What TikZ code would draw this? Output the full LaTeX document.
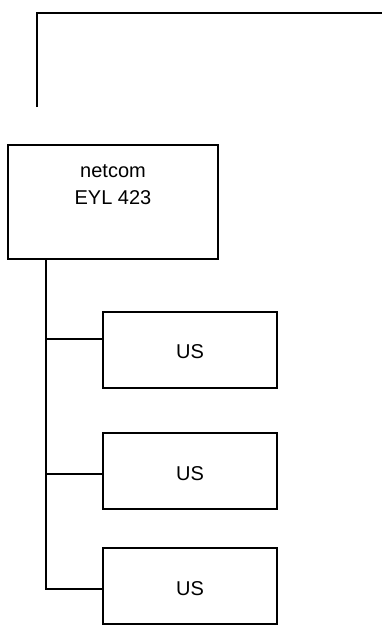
\documentclass[tikz,border=0pt]{standalone}
\usepackage{fontspec}
\setmainfont{Liberation Sans}
\begin{document}
\begin{tikzpicture}[x=1pt,y=1pt,
  line/.style={line width=1.7pt, line cap=butt},
  box/.style={draw, line width=1.7pt, rectangle, inner sep=0pt, outer sep=0pt},
  lbl/.style={font=\fontsize{20}{26.7}\selectfont, align=center, inner sep=0pt}]
\useasboundingbox (0,0) rectangle (382,-626);
% top connector
\coordinate (t1) at (37,-107);
\coordinate (t2) at (37,-13);
\coordinate (t3) at (383,-13);
\draw[line] (t1) -- (t2) -- (t3);
% main box
\node[box, minimum width=210, minimum height=114] (main) at (113,-202) {};
\node[lbl, anchor=base] (mainlbl) at (113,-204) {netcom\\EYL 423};
% US boxes
\node[box, minimum width=174, minimum height=76] (us1) at (190,-350) {};
\node[lbl] (us1l) at (190,-352) {US};
\node[box, minimum width=174, minimum height=76] (us2) at (190,-471) {};
\node[lbl] (us2l) at (190,-474) {US};
\node[box, minimum width=174, minimum height=76] (us3) at (190,-586) {};
\node[lbl] (us3l) at (190,-589) {US};
% trunk
\coordinate (top) at (46,-259);
\coordinate (b1) at (46,-339);
\coordinate (b2) at (46,-474);
\coordinate (b3) at (46,-589);
\draw[line] (main.south -| top) -- (b3) -- (b3 -| us3.west);
\draw[line] (b1) -- (b1 -| us1.west);
\draw[line] (b2) -- (b2 -| us2.west);
\end{tikzpicture}
\end{document}
